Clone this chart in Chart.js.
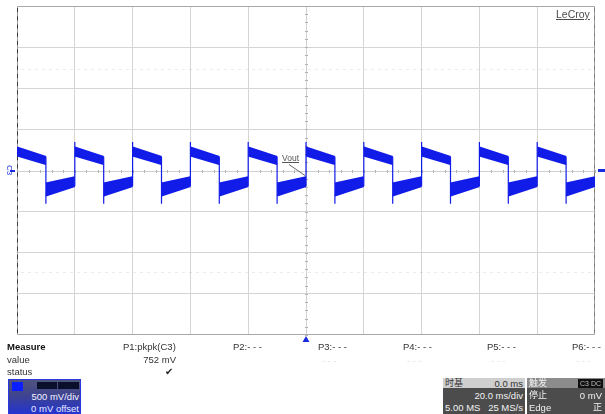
<!DOCTYPE html>
<html>
<head>
<meta charset="utf-8">
<script src="https://cdn.jsdelivr.net/npm/chart.js@4.4.1/dist/chart.umd.min.js"></script>
<style>
html, body { margin: 0; padding: 0; background: #fff; }
#wrap { position: relative; width: 605px; height: 414px; overflow: hidden;
        font-family: "Liberation Sans", Arial, sans-serif; }
#c { position: absolute; left: 0; top: 0; }
.t { position: absolute; white-space: nowrap; line-height: 1; font-size: 9.5px; color: #333; }
.b { font-weight: bold; color: #111; }
.faint { color: #e2e2e2; }
.box { position: absolute; overflow: hidden; font-size: 9.5px; line-height: 1; }
.row { position: absolute; left: 0; right: 0; }
.row span { position: absolute; white-space: nowrap; }
.cjk { font-family: "Noto Sans CJK SC", sans-serif; font-size: 9px; }
</style>
</head>
<body>
<div id="wrap">
  <canvas id="c" width="605" height="414"></canvas>

  <!-- Scope labels on the graticule -->
  <div class="t" style="left:556px;top:9px;font-size:10.5px;color:#4a4a4a;text-decoration:underline;">LeCroy</div>
  <div class="t" style="left:282px;top:154px;font-size:8.5px;color:#555;text-decoration:underline;">Vout</div>
  <div class="t" style="left:4px;top:166px;font-size:8px;color:#1a2ae0;transform:rotate(90deg);transform-origin:center;">C3</div>

  <!-- Measurement table -->
  <div class="t b" style="left:7px;top:342px;">Measure</div>
  <div class="t" style="left:7px;top:355px;">value</div>
  <div class="t" style="left:7px;top:367px;">status</div>
  <div class="t" style="left:123px;top:342px;">P1:pkpk(C3)</div>
  <div class="t" id="p1val" style="right:429px;top:355px;"></div>
  <div class="t" style="left:165px;top:367px;color:#222;">&#10004;</div>
  <div class="t" style="left:233px;top:342px;">P2:- - -</div>
  <div class="t" style="left:318px;top:342px;">P3:- - -</div>
  <div class="t" style="left:403px;top:342px;">P4:- - -</div>
  <div class="t" style="left:487px;top:342px;">P5:- - -</div>
  <div class="t" style="left:572px;top:342px;">P6:- - -</div>
  <div class="t faint" style="left:322px;top:356px;">- - -</div>
  <div class="t faint" style="left:407px;top:356px;">- - -</div>
  <div class="t faint" style="left:491px;top:356px;">- - -</div>
  <div class="t faint" style="left:576px;top:356px;">- - -</div>

  <!-- Channel descriptor -->
  <div class="box" style="left:8px;top:379px;width:71px;height:35px;border:1px solid #2a3ae0;border-bottom:none;
       background:linear-gradient(#50547c 0%, #3e4390 45%, #2233d4 100%);">
    <div style="position:absolute;left:3px;top:2px;width:11px;height:9px;background:#0b1eff;"></div>
    <div style="position:absolute;left:28px;top:2px;width:20px;height:7px;background:#0a0f2c;"></div>
    <div style="position:absolute;left:49px;top:2px;width:21px;height:7px;background:#0a0f2c;"></div>
    <div class="row" style="top:12px;"><span style="right:1px;color:#f4f4ff;">500 mV/div</span></div>
    <div class="row" style="top:24px;"><span style="right:1px;color:#e6eaff;">0 mV offset</span></div>
  </div>

  <!-- Timebase descriptor -->
  <div class="box" style="left:443px;top:378px;width:82px;height:36px;background:#4c4c4c;">
    <div class="row" style="top:0;height:10px;background:#cfcfcf;">
      <span class="cjk" style="left:2px;top:0;color:#333;">时基</span>
      <span style="right:2px;top:1px;color:#333;">0.0 ms</span>
    </div>
    <div class="row" style="top:13px;"><span style="right:2px;color:#f2f2f2;">20.0 ms/div</span></div>
    <div class="row" style="top:25px;">
      <span style="left:2px;color:#f2f2f2;">5.00 MS</span>
      <span style="right:2px;color:#f2f2f2;">25 MS/s</span>
    </div>
  </div>

  <!-- Trigger descriptor -->
  <div class="box" style="left:527px;top:378px;width:78px;height:36px;background:#4c4c4c;">
    <div class="row" style="top:0;height:10px;background:#8c8c8c;">
      <span class="cjk" style="left:2px;top:0;color:#f4f4f4;">触发</span>
      <span style="right:2px;top:1px;background:#111;color:#bbb;font-size:7px;padding:1px 2px;">C3 DC</span>
    </div>
    <div class="row" style="top:12px;">
      <span class="cjk" style="left:2px;color:#f2f2f2;">停止</span>
      <span style="right:3px;top:1px;color:#f2f2f2;">0 mV</span>
    </div>
    <div class="row" style="top:24px;">
      <span style="left:2px;top:1px;color:#f2f2f2;">Edge</span>
      <span class="cjk" style="right:3px;color:#f2f2f2;">正</span>
    </div>
  </div>
</div>

<script>
// Graticule: 20 ms/div horizontally, 500 mV/div vertically
const timeRange = [-100, 100];      // ms
const voltRange = [-2000, 2000];    // mV
const timePerDiv = 20;              // ms
const voltPerDiv = 500;             // mV

// Switching edges of Vout (ms)
const riseTimes = [-100, -80, -60, -40, -20, 0, 20, 40, 60, 80];
const fallTimes = [-90, -70, -50, -30, -10, 10, 30, 50, 70, 90];

// Noise envelope of each half-cycle, [start, end] in mV
const highUpper = [280, 166];
const highLower = [183, 80];
const lowUpper = [-159, -82];
const lowLower = [-305, -188];

// Edge overshoot / undershoot (mV)
const riseOvershoot = 348;
const fallUndershoot = -404;

const traceColor = 'rgb(18, 28, 232)';

// Peak-to-peak measurement shown in the table
document.getElementById('p1val').textContent = (riseOvershoot - fallUndershoot) + ' mV';

// Build one filled band (upper + lower line) per half-cycle
const datasets = [];
function addBand(t0, t1, upper, lower) {
  datasets.push({
    data: [{x: t0, y: upper[0]}, {x: t1, y: upper[1]}],
    borderColor: traceColor, borderWidth: 2, pointRadius: 0, fill: false
  });
  datasets.push({
    data: [{x: t0, y: lower[0]}, {x: t1, y: lower[1]}],
    borderColor: traceColor, borderWidth: 2, pointRadius: 0,
    fill: '-1', backgroundColor: traceColor
  });
}
riseTimes.forEach((tr, i) => {
  const tf = fallTimes[i];
  addBand(tr, tf, highUpper, highLower);
  const next = i + 1 < riseTimes.length ? riseTimes[i + 1] : timeRange[1];
  addBand(tf, next, lowUpper, lowLower);
});

// Vertical transitions with their overshoot spikes
const edgePts = [];
riseTimes.slice(1).forEach(t => {
  edgePts.push({x: t, y: lowLower[1]}, {x: t, y: riseOvershoot}, {x: t, y: null});
});
fallTimes.forEach(t => {
  edgePts.push({x: t, y: highUpper[1]}, {x: t, y: fallUndershoot}, {x: t, y: null});
});
datasets.push({
  data: edgePts, borderColor: traceColor, borderWidth: 1.2,
  pointRadius: 0, fill: false, spanGaps: false
});

// Frame, centre axes with sub-division ticks, markers and the Vout pointer
const scopeFrame = {
  id: 'scopeFrame',
  beforeDatasetsDraw(chart) {
    const {ctx, chartArea: a, scales: {x, y}} = chart;
    const cx = Math.round(x.getPixelForValue(0)) + 0.5;
    const cy = Math.round(y.getPixelForValue(0)) + 0.5;
    ctx.save();

    // faint ghost rows
    ctx.strokeStyle = 'rgba(0,0,0,0.08)';
    ctx.setLineDash([3, 4]);
    [1240, -1240].forEach(v => {
      const py = Math.round(y.getPixelForValue(v)) + 0.5;
      ctx.beginPath(); ctx.moveTo(a.left + 4, py); ctx.lineTo(a.right - 4, py); ctx.stroke();
    });
    ctx.setLineDash([]);

    // centre axes
    ctx.strokeStyle = '#d0d0d0';
    ctx.lineWidth = 1;
    ctx.beginPath(); ctx.moveTo(a.left, cy); ctx.lineTo(a.right, cy); ctx.stroke();
    ctx.beginPath(); ctx.moveTo(cx, a.top); ctx.lineTo(cx, a.bottom); ctx.stroke();

    ctx.strokeStyle = '#b4b4b4';
    for (let t = timeRange[0]; t <= timeRange[1]; t += timePerDiv / 5) {
      const px = Math.round(x.getPixelForValue(t)) + 0.5;
      ctx.beginPath(); ctx.moveTo(px, cy - 1.5); ctx.lineTo(px, cy + 1.5); ctx.stroke();
    }
    for (let v = voltRange[0]; v <= voltRange[1]; v += voltPerDiv / 5) {
      const py = Math.round(y.getPixelForValue(v)) + 0.5;
      ctx.beginPath(); ctx.moveTo(cx - 1.5, py); ctx.lineTo(cx + 1.5, py); ctx.stroke();
    }

    // outer frame
    const L = Math.round(a.left) + 0.5, R = Math.round(a.right) - 0.5;
    const T = Math.round(a.top) + 0.5, B = Math.round(a.bottom) - 0.5;
    ctx.strokeStyle = '#a8a8a8';
    ctx.beginPath(); ctx.moveTo(L, T); ctx.lineTo(R, T); ctx.stroke();
    ctx.beginPath(); ctx.moveTo(L, B); ctx.lineTo(R, B); ctx.stroke();
    ctx.strokeStyle = '#9c9c9c';
    ctx.beginPath(); ctx.moveTo(L, T); ctx.lineTo(L, B); ctx.stroke();
    ctx.beginPath(); ctx.moveTo(R, T); ctx.lineTo(R, B); ctx.stroke();
    ctx.strokeStyle = '#3a3a3a';
    ctx.lineWidth = 1;
    for (let v = voltRange[0]; v < voltRange[1]; v += voltPerDiv / 5) {
      const p0 = y.getPixelForValue(v + voltPerDiv / 5) + 2;
      const p1 = y.getPixelForValue(v) - 2;
      ctx.beginPath(); ctx.moveTo(L, p0); ctx.lineTo(L, p1); ctx.stroke();
    }
    ctx.strokeStyle = '#7a7a7a';
    for (let v = voltRange[0]; v < voltRange[1]; v += voltPerDiv / 5) {
      const p0 = y.getPixelForValue(v + voltPerDiv / 5) + 2.5;
      const p1 = y.getPixelForValue(v) - 2.5;
      ctx.beginPath(); ctx.moveTo(R, p0); ctx.lineTo(R, p1); ctx.stroke();
    }
    ctx.restore();
  },
  afterDatasetsDraw(chart) {
    const {ctx, chartArea: a, scales: {x, y}} = chart;
    const cx = x.getPixelForValue(0);
    const cy = y.getPixelForValue(0);
    ctx.save();
    // Vout pointer
    ctx.strokeStyle = '#666';
    ctx.lineWidth = 1;
    ctx.beginPath(); ctx.moveTo(cx - 17, cy - 6); ctx.lineTo(cx - 1, cy + 5); ctx.stroke();
    // trigger position marker
    ctx.fillStyle = '#1a2ae0';
    ctx.beginPath();
    ctx.moveTo(cx, a.bottom + 1); ctx.lineTo(cx - 3.5, a.bottom + 7); ctx.lineTo(cx + 3.5, a.bottom + 7);
    ctx.closePath(); ctx.fill();
    // trigger level marker (right) and channel ground marker (left)
    ctx.fillRect(a.right + 3, cy - 1.5, 7, 3);
    ctx.fillRect(a.left - 7, cy - 0.5, 5, 2);
    ctx.restore();
  }
};

new Chart(document.getElementById('c'), {
  type: 'line',
  data: { datasets },
  options: {
    responsive: false,
    devicePixelRatio: 1,
    animation: false,
    layout: { padding: { left: 17, right: 10, top: 6, bottom: 79 } },
    plugins: { legend: { display: false }, tooltip: { enabled: false } },
    scales: {
      x: {
        type: 'linear', min: timeRange[0], max: timeRange[1],
        ticks: { display: false, stepSize: timePerDiv },
        border: { display: false },
        grid: {
          drawTicks: false,
          color: c => (c.tick.value === 0 || c.tick.value === timeRange[0] || c.tick.value === timeRange[1]) ? 'rgba(0,0,0,0)' : '#d4d4d4'
        }
      },
      y: {
        type: 'linear', min: voltRange[0], max: voltRange[1],
        ticks: { display: false, stepSize: voltPerDiv },
        border: { display: false },
        grid: {
          drawTicks: false,
          color: c => (c.tick.value === 0 || c.tick.value === voltRange[0] || c.tick.value === voltRange[1]) ? 'rgba(0,0,0,0)' : '#d4d4d4'
        }
      }
    }
  },
  plugins: [scopeFrame]
});
</script>
</body>
</html>
